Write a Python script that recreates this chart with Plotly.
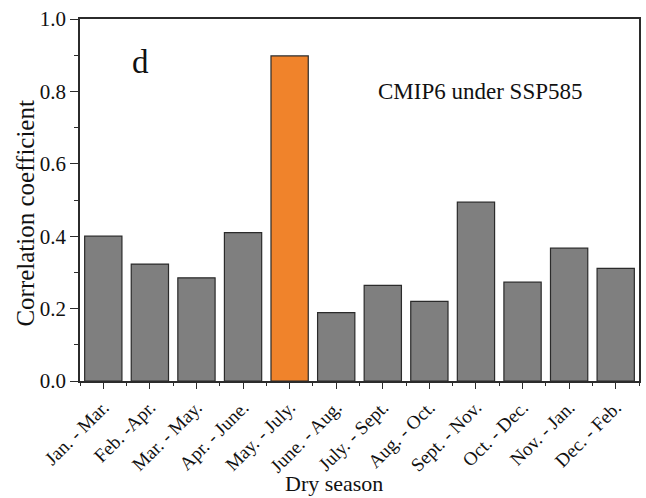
import plotly.graph_objects as go

# Dry-season windows and their correlation coefficients (CMIP6, SSP585)
seasons = ["Jan. - Mar.", "Feb. -Apr.", "Mar. - May.", "Apr. - June.", "May. - July.",
           "June. - Aug.", "July. - Sept.", "Aug. - Oct.", "Sept. - Nov.", "Oct. - Dec.",
           "Nov. - Jan.", "Dec. - Feb."]
corr = [0.40, 0.323, 0.285, 0.41, 0.898, 0.189, 0.264, 0.22, 0.494, 0.273, 0.367, 0.311]
highlight = "May. - July."

GRAY = "#7f7f7f"
ORANGE = "#f0832b"
EDGE = "#2b2b2b"
INK = "#111111"
FONT = "Liberation Serif"

positions = list(range(len(seasons)))
colors = [ORANGE if s == highlight else GRAY for s in seasons]

fig = go.Figure(go.Bar(
    x=positions, y=corr, width=0.8,
    marker=dict(color=colors, line=dict(color=EDGE, width=1.2)),
))

# panel letter and scenario label
fig.add_annotation(text="d", xref="paper", yref="paper", x=0.108, y=0.88,
                   showarrow=False, font=dict(family=FONT, size=33, color=INK),
                   xanchor="center", yanchor="middle")
fig.add_annotation(text="CMIP6 under SSP585", xref="paper", yref="paper", x=0.53, y=0.800,
                   showarrow=False, font=dict(family=FONT, size=23, color=INK),
                   xanchor="left", yanchor="middle")

# axis titles, placed as free text
fig.add_annotation(text="Dry season", xref="paper", yref="paper", x=0.454, y=-0.283,
                   showarrow=False, font=dict(family=FONT, size=22, color=INK),
                   xanchor="center", yanchor="middle", borderpad=0)
fig.add_annotation(text="Correlation coefficient", xref="paper", yref="paper",
                   x=-0.098, y=0.463, textangle=-90,
                   showarrow=False, font=dict(family=FONT, size=25, color=INK),
                   xanchor="center", yanchor="middle")

fig.update_layout(
    width=646, height=498,
    margin=dict(l=80, r=7, t=19, b=117),
    paper_bgcolor="white", plot_bgcolor="white",
    font=dict(family=FONT, color=INK),
    showlegend=False,
)
fig.update_xaxes(
    range=[-0.5, len(seasons) - 0.5], automargin=False,
    tickmode="array", tickvals=positions, ticktext=seasons,
    tickangle=-45, tickfont=dict(family=FONT, size=19, color=INK),
    ticks="outside", ticklen=6, tickwidth=1.2, tickcolor=EDGE,
    minor=dict(ticks="outside", ticklen=3, tickwidth=1.2, tickcolor=EDGE, tick0=0.5, dtick=1),
    showline=True, linecolor=EDGE, linewidth=1.5, mirror=True,
    showgrid=False, zeroline=False,
)
fig.update_yaxes(
    range=[0, 1.0], automargin=False, tick0=0, dtick=0.2, tickformat=".1f",
    tickfont=dict(family=FONT, size=21, color=INK),
    ticks="outside", ticklen=8, tickwidth=1.2, tickcolor=EDGE,
    minor=dict(ticks="outside", ticklen=4, tickwidth=1.2, tickcolor=EDGE, dtick=0.1),
    showline=True, linecolor=EDGE, linewidth=1.5, mirror=True,
    showgrid=False, zeroline=False,
)

fig.write_html("out.html")
